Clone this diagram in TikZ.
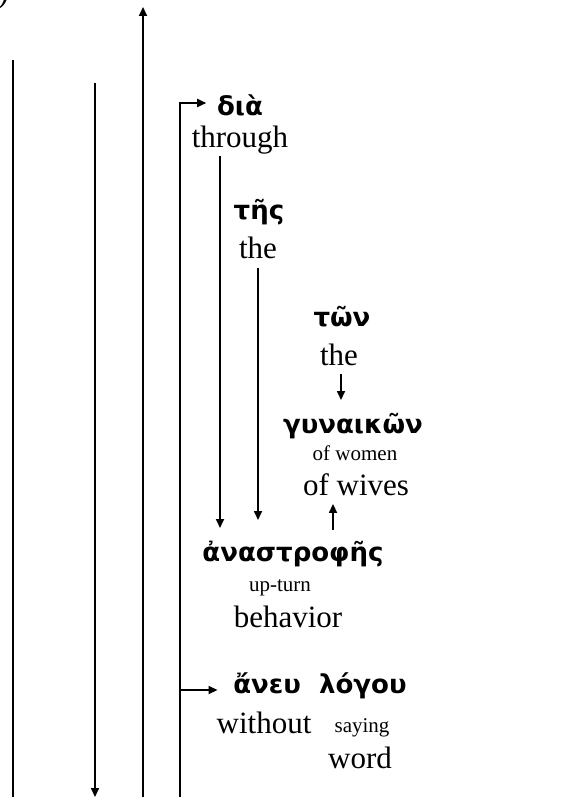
\documentclass[tikz,border=0pt]{standalone}
\usepackage{fontspec}
\setmainfont{Liberation Serif}
\newfontfamily\grk{DejaVu Sans}
\usetikzlibrary{arrows.meta}
\begin{document}
\begin{tikzpicture}[x=1pt,y=-1pt,line width=1.7pt,
  >={Triangle[length=9pt,width=8pt]},
  gk/.style={font=\grk\bfseries\fontsize{26}{26}\selectfont,inner sep=0pt},
  big/.style={font=\fontsize{31}{31}\selectfont,inner sep=0pt},
  small/.style={font=\fontsize{21}{21}\selectfont,inner sep=0pt}]
\useasboundingbox (0,0) rectangle (583,797);
% texts
\node[big,font=\fontsize{31}{31}\selectfont\itshape] (par) at (4,-4) {)};
\node[gk] (dia) at (240,105) {διὰ};
\node[big] (through) at (240,140) {through};
\node[gk] (tes) at (259,212) {τῆς};
\node[big] (the1) at (258,248) {the};
\node[gk] (ton) at (342,317) {τῶν};
\node[big] (the2) at (339,355) {the};
\node[gk] (gyn) at (353,426) {γυναικῶν};
\node[small] (women) at (355,453) {of women};
\node[big] (wives) at (356,485) {of wives};
\node[gk] (ana) at (293,554) {ἀναστροφῆς};
\node[small] (upturn) at (280,588) {up-turn};
\node[big] (behav) at (288,617) {behavior};
\node[gk] (anev) at (320,686) {ἄνευ\hspace{0.7em}λόγου};
\node[big] (without) at (264,723) {without};
\node[small] (saying) at (362,728) {saying};
\node[big] (word) at (360,758) {word};
% free ends of the long lines
\coordinate (a1) at (13,60);
\coordinate (b1) at (13,797);
\coordinate (a2) at (95,83);
\coordinate (b2) at (95,797);
\coordinate (a3) at (143,797);
\coordinate (b3) at (143,7);
\coordinate (a4) at (180,797);
\coordinate (br) at (180,690);
% connectors
\draw (a1) -- (b1);
\draw[->] (a2) -- (b2);
\draw[->] (a3) -- (b3);
\draw[->] (a4) |- ([xshift=-10pt,yshift=2pt]dia.west);
\draw[->] (br) -- ([xshift=-15pt,yshift=-4pt]anev.west);
\draw[->] ([xshift=-20pt,yshift=-1pt]through.south) -- (220,528);
\draw[->] ([xshift=0pt,yshift=-8pt]the1.south) -- (258,520);
\draw[->] ([xshift=2pt,yshift=-7pt]the2.south) -- (341,400);
\draw[->] (333,530) -- ([xshift=-23pt,yshift=-7pt]wives.south);
\end{tikzpicture}
\end{document}
